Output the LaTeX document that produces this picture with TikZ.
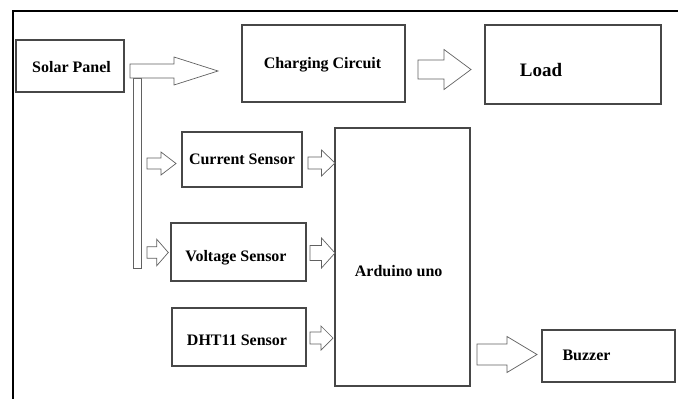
\documentclass[tikz,border=0pt]{standalone}
\usepackage{fontspec}
\setmainfont{Liberation Serif}
\newcommand\blkarrow[6]{% tail x, head start x, tip x, centre y, body half, head half
  \draw[barrow] (#1,#4-#5) -- (#2,#4-#5) -- (#2,#4-#6) -- (#3,#4) -- (#2,#4+#6) -- (#2,#4+#5) -- (#1,#4+#5) -- cycle;}
\begin{document}
\begin{tikzpicture}[x=1pt,y=-1pt,
  box/.style={draw=black!72,line width=1.1pt,inner sep=0pt},
  lbl/.style={inner sep=0pt,text height=11pt,text depth=0pt,font=\fontsize{16}{19}\selectfont\bfseries},
  biglbl/.style={inner sep=0pt,text height=13pt,text depth=0pt,font=\fontsize{19}{22}\selectfont\bfseries},
  barrow/.style={draw=black!62,line width=0.7pt,fill=white},
  frame/.style={draw=black,line width=1.5pt}]
\useasboundingbox (0,0) rectangle (678,399);
% frame
\draw[frame] (13,399) -- (13,11) -- (678,11);
% boxes
\node[box,minimum width=108pt,minimum height=52pt] (solar) at (70,66) {};
\node[box,minimum width=163pt,minimum height=77pt] (charge) at (323.5,63.5) {};
\node[box,minimum width=176pt,minimum height=79pt] (load) at (573,64.5) {};
\node[box,minimum width=120pt,minimum height=55pt] (current) at (242,159.5) {};
\node[box,minimum width=135pt,minimum height=58pt] (voltage) at (238.5,252) {};
\node[box,minimum width=134pt,minimum height=58pt] (dht) at (239,337) {};
\node[box,minimum width=135pt,minimum height=258pt] (arduino) at (402.5,257) {};
\node[box,minimum width=133pt,minimum height=52pt] (buzzer) at (608.5,356) {};
% labels
\node[lbl] (tsolar) at (71.5,67) {Solar Panel};
\node[lbl] (tcharge) at (322.5,62.5) {Charging Circuit};
\node[biglbl] (tload) at (541,69.5) {Load};
\node[lbl] (tcurrent) at (242,158.7) {Current Sensor};
\node[lbl] (tvoltage) at (236,256) {Voltage Sensor};
\node[lbl] (tdht) at (237,339.5) {DHT11 Sensor};
\node[lbl] (tarduino) at (398.7,270.5) {Arduino uno};
\node[lbl] (tbuzzer) at (586.5,354.5) {Buzzer};
% block arrows
\draw[barrow] (133,78) rectangle (141.5,268);
\blkarrow{130}{174}{218}{71}{7}{14}
\blkarrow{418}{444}{471}{69.5}{9.5}{20}
\blkarrow{147}{161}{176}{163.5}{5.5}{11.5}
\blkarrow{308}{321.5}{335}{163}{6}{13}
\blkarrow{147}{156.7}{168.3}{252.5}{5.8}{13.3}
\blkarrow{310}{321.5}{335}{253}{7.5}{15}
\blkarrow{310}{321}{333}{338}{6}{12}
\blkarrow{477}{507}{537}{354.5}{10.5}{18}
\end{tikzpicture}
\end{document}
